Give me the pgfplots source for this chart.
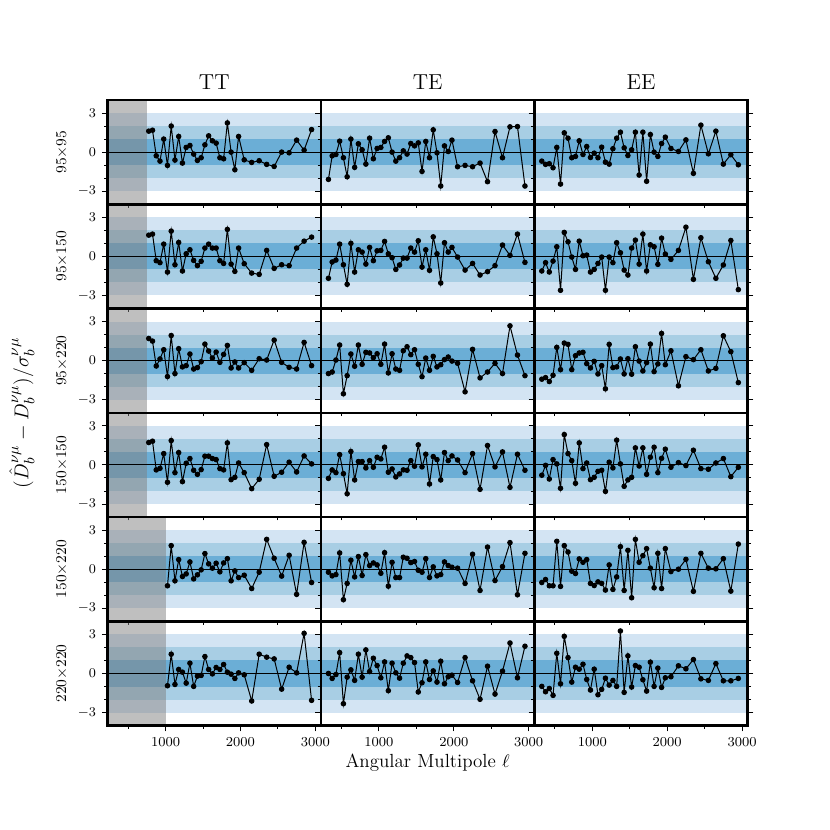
\documentclass[border=0pt]{standalone}
\usepackage{pgfplots}
\pgfplotsset{compat=1.18}
\usepackage{pgfplotstable}
\usepgfplotslibrary{groupplots}
\definecolor{bandA}{HTML}{D3E4F3}
\definecolor{bandB}{HTML}{A8CEE4}
\definecolor{bandC}{HTML}{6BAED6}

\pgfplotstableread{
l r1 r2 r3 r4
775 1.61 1.63 1.7 1.72
825 1.68 1.71 1.5 1.82
875 -0.28 -0.33 -0.41 -0.38
925 -0.69 -0.48 0.13 -0.26
975 1.0 0.94 0.84 0.87
1025 -1.02 -1.2 -1.22 -1.33
1075 2.0 1.94 1.93 1.87
1125 -0.61 -0.64 -0.99 -0.59
1175 1.2 1.07 0.92 0.95
1225 -0.84 -1.12 -0.48 -1.28
1275 0.36 0.2 -0.38 0.13
1325 0.51 0.51 0.51 0.49
1375 -0.15 -0.31 -0.64 -0.41
1425 -0.64 -0.71 -0.53 -0.72
1475 -0.43 -0.38 -0.08 -0.36
1525 0.56 0.64 1.27 0.67
1575 1.25 0.94 0.74 0.67
1625 0.87 0.64 0.2 0.49
1675 0.69 0.64 0.66 0.41
1725 -0.43 -0.33 -0.13 -0.28
1775 -0.51 -0.54 0.48 -0.38
1825 2.24 2.07 1.17 1.69
1875 0 -0.59 -0.56 -1.13
1925 -1.35 -1.15 -0.1 -0.95
1975 1.2 0.64 -0.56 0.15
2050 -0.59 -0.56 -0.15 -0.59
2150 -0.79 -1.28 -0.74 -1.82
2250 -0.66 -1.38 0.15 -1.1
2350 -0.94 0.46 0.05 1.56
2450 -1.1 -0.92 1.58 -0.87
2550 0 -0.64 -0.13 -0.56
2650 -0.05 -0.71 -0.51 0.21
2750 0.92 0.64 -0.64 -0.54
2850 0.15 1.17 1.4 0.69
2950 1.73 1.48 -0.38 0.08
}\TTa

\pgfplotstableread{
l r5 r6
1025 -1.27 -0.94
1075 1.81 1.48
1125 -0.89 -0.84
1175 0.74 0.31
1225 -0.56 0.1
1275 -0.36 -0.74
1325 0.56 0.79
1375 -0.74 -0.99
1425 -0.43 -0.2
1475 -0.05 -0.15
1525 1.2 1.3
1575 0.41 0.31
1625 0.08 -0.03
1675 0.46 0.46
1725 -0.2 0.31
1775 0.48 0.69
1825 0.81 0.1
1875 -0.89 -0.05
1925 -0.13 -0.38
1975 -0.64 0.05
2050 -0.46 -0.1
2150 -1.48 -2.11
2250 -0.23 1.48
2350 2.29 1.25
2450 0.84 1.12
2550 -0.53 -1.2
2650 1.07 0.48
2750 -1.93 0.05
2850 2.06 3.08
2950 -1.02 -2.06
}\TTb

\pgfplotstableread{
l r1 r2 r3 r4 r5 r6
325 -2.09 -1.68 -0.99 -1.03 -0.23 0
375 -0.28 -0.43 -0.87 -0.38 -0.51 -0.38
425 -0.18 -0.28 0.05 -0.59 -0.41 -0.08
475 0.84 0.94 1.2 0.79 1.25 1.6
525 -0.43 -0.64 -2.54 -0.67 -2.34 -2.32
575 -1.89 -2.14 -1.15 -2.21 -1.09 -0.28
625 1.0 1.0 0.51 1.03 0.69 0.28
675 -1.17 -1.2 -0.43 -1.15 -0.59 -0.53
725 0.64 0.51 1.2 0.26 0.97 1.48
775 0.18 0.33 -0.28 0.26 -0.48 -0.28
825 -0.92 -0.59 0.64 -0.23 1.12 1.81
875 1.07 0.69 0.59 0.33 0.28 0.15
925 -0.51 -0.33 0.23 -0.18 0.48 1.17
975 0.28 0.43 0.53 0.59 0.33 0.61
1025 0.36 0.46 -0.28 0.46 -0.31 -0.33
1075 0.82 1.15 1.27 1.36 1.27 0.89
1125 1.1 0.2 -0.94 -0.56 -1.3 -1.32
1175 0 -0.1 0.53 -0.31 0.53 0.79
1225 -0.69 -1.0 -0.64 -0.92 -0.64 0.05
1275 -0.43 -0.66 -0.74 -0.69 -0.64 -0.36
1325 0.1 -0.13 0.76 -0.38 0.92 0.79
1375 -0.15 -0.13 1.07 -0.41 0.84 1.35
1425 0.66 0.64 0.46 0.33 0.51 1.22
1475 0.48 0.33 0.84 -0.1 0.59 0.84
1525 0.71 1.2 -0.28 1.54 -0.08 -1.42
1575 -1.48 -0.82 -1.23 -0.15 -0.23 -0.71
1625 0.82 0.51 0.2 0.82 0.81 0.89
1675 -0.43 -1.07 -0.74 -1.46 -0.64 -0.46
1725 1.71 1.5 0.33 0.64 0.18 0.2
1775 -0.05 0.2 -0.48 0.41 -0.51 -0.66
1825 -2.6 -2.04 -0.31 -1.15 -0.41 0.94
1875 0.48 1.05 0.08 0.95 0.56 -0.79
1925 0.05 0.33 0.28 0.33 0.28 -0.25
1975 0.92 0.69 -0.03 0.69 0.15 -0.13
2050 -1.12 -0.05 -0.2 0.38 0.08 -0.69
2150 -1.02 -1.05 -2.39 -0.59 -1.09 1.22
2250 -1.12 -0.54 0.87 0.87 1.15 -0.56
2350 -0.84 -1.43 -1.32 -1.87 -1.63 -1.98
2450 -2.27 -1.17 -0.87 1.49 1.7 0.56
2550 1.58 -0.71 -0.2 -0.15 -0.87 -1.58
2650 -0.43 0.87 -0.99 1.0 0.2 0.18
2750 1.94 0.08 2.67 -1.72 2.04 2.34
2850 1.96 1.71 0.43 0.82 -1.96 -0.33
2950 -2.6 -0.46 -1.15 -0.41 1.22 2.09
}\TE

\pgfplotstableread{
l r1 r2 r3 r4 r5 r6
325 -0.69 -1.12 -1.42 -0.79 -1.02 -0.99
375 -0.94 -0.48 -1.3 -0.03 -0.79 -1.4
425 -0.89 -1.2 -1.6 -1.08 -1.27 -1.15
475 -1.2 -0.36 -1.12 0.41 -1.27 -1.68
525 0.36 0.74 1.02 0.08 2.14 1.55
575 -2.45 -2.6 -0.69 -1.79 -1.32 -0.79
625 1.48 1.84 1.35 2.33 1.81 2.85
675 1.07 1.12 1.25 0.87 1.32 1.22
725 -0.43 -0.05 -0.69 0.33 -0.15 -0.66
775 -0.33 -1.0 0.38 -1.41 -0.33 0.48
825 0.87 1.17 0.59 1.69 0.79 0.33
875 -0.18 0.05 0.64 -0.28 0.53 0.71
925 0.43 0.1 -0.23 0.15 0.74 -0.46
975 -0.41 -1.2 -0.56 -1.13 -1.09 -1.27
1025 -0.08 -1.0 -0.05 -0.95 -1.25 0.33
1075 -0.43 -0.54 -1.02 -0.49 -0.97 -1.63
1125 0.38 -0.05 -0.38 -0.41 -1.09 -1.22
1175 -0.77 -2.6 -2.16 -2.03 -1.6 -0.36
1225 -0.92 -0.05 1.25 0.21 0.33 -0.89
1275 0.26 -0.48 -0.53 -0.23 -1.55 -0.53
1325 1.07 1.05 -0.48 1.9 -0.59 -0.99
1375 1.53 0.28 0.13 0.08 1.73 3.26
1425 0.33 -1.05 -1.02 -1.64 -1.63 -1.45
1475 -0.26 -1.43 0.15 -1.15 1.45 1.35
1525 0.18 0.64 -1.04 -0.95 -2.19 -1.04
1575 1.53 1.25 1.07 1.31 2.29 0.61
1625 -1.76 -0.59 -0.03 -0.08 0.53 0.48
1675 1.53 1.71 -0.79 1.31 1.04 -0.48
1725 -2.24 -1.12 -0.15 -0.72 1.58 -1.35
1775 1.35 0.89 1.27 0.59 0.08 0.87
1825 0 0.74 -0.84 1.36 -1.42 -0.99
1875 -0.33 -0.61 -0.25 -0.59 1.22 0.41
1925 0.66 1.4 2.09 0.51 -1.48 -1.07
1975 1.15 0.18 -0.31 1.21 1.58 -0.33
2050 0.28 -0.23 0.76 -0.18 -0.18 -0.25
2150 0.05 0.46 -1.93 0.18 0 0.59
2250 0.94 2.24 0.31 -0.05 0.76 0.36
2350 -1.63 -1.76 0.08 1.13 -1.7 1.07
2450 2.07 1.43 0.84 -0.28 1.22 -0.41
2550 -0.13 -0.41 -0.79 -0.33 0.08 -0.53
2650 1.61 -1.68 -0.59 0.15 0.03 0.76
2750 -0.92 -0.66 1.91 0.49 0.81 -0.56
2850 -0.2 1.22 0.69 -0.9 -1.68 -0.56
2950 -0.97 -2.55 -1.68 -0.18 1.93 -0.38
}\EE

\newcommand{\bands}{%
\addplot[draw=none,fill=bandA] coordinates {(225,-3) (3075,-3) (3075,3) (225,3)};
\addplot[draw=none,fill=bandB] coordinates {(225,-2) (3075,-2) (3075,2) (225,2)};
\addplot[draw=none,fill=bandC] coordinates {(225,-1) (3075,-1) (3075,1) (225,1)};
}
\newcommand{\grayto}[1]{%
\addplot[draw=none,fill=gray,fill opacity=0.5] coordinates {(225,-4) (#1,-4) (#1,4) (225,4)};
}
\newcommand{\zl}{%
\addplot[black,line width=0.6pt] coordinates {(225,0) (3075,0)};
}
\newcommand{\dat}[2]{%
\addplot[black,line width=0.6pt,mark=*,mark size=1.35pt,mark options={fill=black,solid}] table[x=l,y=#2]{#1};
}

\begin{document}
\begin{tikzpicture}
\begin{groupplot}[
  group style={group size=3 by 6, horizontal sep=0pt, vertical sep=0pt},
  scale only axis, width=128.04pt, height=62.58pt,
  xmin=225, xmax=3075, ymin=-4, ymax=4,
  axis on top,
  axis line style={line width=1.5pt},
  tick align=outside,
  scaled x ticks=false,
  xtick={1000,2000,3000}, minor xtick={500,1500,2500}, xticklabels={1000,2000,3000},
  ytick={-3,0,3}, minor ytick={-2,-1,1,2}, yticklabels={},
  xtick pos=bottom, ytick pos=left,
  major tick length=3.4pt, minor tick length=2pt,
  every tick/.append style={black, line width=0.6pt},
  tick label style={font=\fontsize{8.2}{9}\selectfont},
  xmajorticks=false, xminorticks=false,
  title style={font=\fontsize{13}{15}\selectfont, yshift=-3.4pt},
  ylabel style={at={(axis description cs:-0.2137,0.5)}, anchor=center, font=\fontsize{9.5}{11}\selectfont},
  ttcol/.style={yticklabels={$-3$,$0$,$3$}},
  eecol/.style={ytick pos=both},
  bottomrow/.style={xmajorticks=true, xminorticks=true},
]
% row 1
\nextgroupplot[title={TT}, ttcol, ylabel={$95{\times}95$}]
\bands \grayto{750} \zl \dat{\TTa}{r1}
\nextgroupplot[title={TE}]
\bands \zl \dat{\TE}{r1}
\nextgroupplot[title={EE}, eecol]
\bands \zl \dat{\EE}{r1}
% row 2
\nextgroupplot[ttcol, ylabel={$95{\times}150$}]
\bands \grayto{750} \zl \dat{\TTa}{r2}
\nextgroupplot[]
\bands \zl \dat{\TE}{r2}
\nextgroupplot[eecol]
\bands \zl \dat{\EE}{r2}
% row 3
\nextgroupplot[ttcol, ylabel={$95{\times}220$}]
\bands \grayto{750} \zl \dat{\TTa}{r3}
\nextgroupplot[]
\bands \zl \dat{\TE}{r3}
\nextgroupplot[eecol]
\bands \zl \dat{\EE}{r3}
% row 4
\nextgroupplot[ttcol, ylabel={$150{\times}150$}]
\bands \grayto{750} \zl \dat{\TTa}{r4}
\nextgroupplot[]
\bands \zl \dat{\TE}{r4}
\nextgroupplot[eecol]
\bands \zl \dat{\EE}{r4}
% row 5
\nextgroupplot[ttcol, ylabel={$150{\times}220$}]
\bands \grayto{1000} \zl \dat{\TTb}{r5}
\nextgroupplot[]
\bands \zl \dat{\TE}{r5}
\nextgroupplot[eecol]
\bands \zl \dat{\EE}{r5}
% row 6
\nextgroupplot[ttcol, bottomrow, ylabel={$220{\times}220$}]
\bands \grayto{1000} \zl \dat{\TTb}{r6}
\nextgroupplot[bottomrow, xlabel={Angular Multipole $\ell$},
  xlabel style={at={(axis description cs:0.5,0)}, anchor=center, yshift=-22.3pt, font=\fontsize{11.4}{13}\selectfont}]
\bands \zl \dat{\TE}{r6}
\nextgroupplot[eecol, bottomrow]
\bands \zl \dat{\EE}{r6}
\end{groupplot}
\node[rotate=90, font=\fontsize{13}{15}\selectfont] at ([xshift=-51.4pt]group c1r3.south west)
  {$(\hat{D}_b^{\nu\mu}-D_b^{\nu\mu})/\sigma_b^{\nu\mu}$};
\path (group c1r1.north west) ++(-64.56pt,60pt) coordinate (tl);
\path (group c3r6.south east) ++(49.4pt,-62.5pt) coordinate (br);
\path (tl) rectangle (br);
\end{tikzpicture}
\end{document}
